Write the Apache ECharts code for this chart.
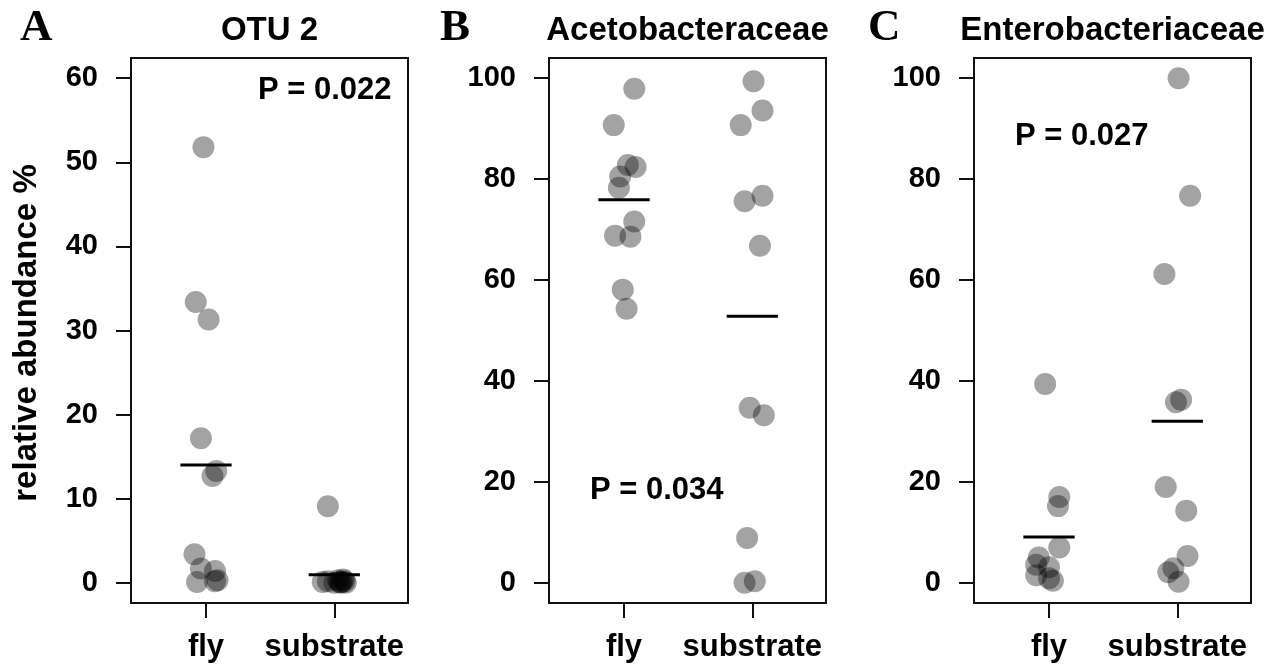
<!DOCTYPE html>
<html>
<head>
<meta charset="utf-8">
<title>relative abundance</title>
<script src="https://cdn.jsdelivr.net/npm/echarts@6/dist/echarts.min.js"></script>
<style>
  html, body { margin: 0; padding: 0; background: #fff; }
  #main { width: 1277px; height: 670px; }
</style>
</head>
<body>
<div id="main"></div>
<script>
  // values
  var categories = ['fly', 'substrate'];
  var panelTitles = ['OTU 2', 'Acetobacteraceae', 'Enterobacteriaceae'];
  var panelLetters = ['A', 'B', 'C'];
  var pTexts = ['P = 0.022', 'P = 0.034', 'P = 0.027'];
  var yTicksA = [0, 10, 20, 30, 40, 50, 60];
  var yTicksBC = [0, 20, 40, 60, 80, 100];

  // OTU 2 (x = jittered group position, y = %)
  var otuFlyX = [0.98, 0.92, 1.02, 0.96, 1.08, 1.05, 0.91, 0.96, 1.07, 0.93, 1.07, 1.09];
  var otuFlyY = [51.8, 33.4, 31.3, 17.2, 13.3, 12.7, 3.4, 1.7, 1.4, 0.1, 0.2, 0.3];
  var otuSubX = [1.95, 1.91, 1.95, 2.0, 2.03, 2.05, 2.06, 2.07, 2.08, 2.09, 2.04];
  var otuSubY = [9.1, 0.1, 0.2, 0, 0.3, 0, 0.1, 0.4, 0.2, 0, 0.1];
  var otuMeans = [14.0, 0.95];

  // Acetobacteraceae
  var aceFlyX = [1.08, 0.92, 1.03, 1.09, 0.97, 0.96, 1.08, 0.93, 1.05, 0.99, 1.02];
  var aceFlyY = [97.9, 90.7, 82.8, 82.4, 80.5, 78.3, 71.6, 68.8, 68.6, 58.1, 54.3];
  var aceSubX = [2.01, 2.08, 1.91, 1.94, 2.08, 2.06, 1.98, 2.09, 1.96, 1.94, 2.02];
  var aceSubY = [99.4, 93.6, 90.7, 75.6, 76.7, 66.8, 34.7, 33.2, 8.9, 0, 0.3];
  var aceMeans = [75.9, 52.8];

  // Enterobacteriaceae
  var entFlyX = [0.97, 1.08, 1.07, 1.08, 0.92, 0.9, 1.0, 0.9, 1.0, 1.03];
  var entFlyY = [39.4, 17.0, 15.2, 7.0, 5.0, 3.6, 3.1, 1.5, 0.9, 0.4];
  var entSubX = [2.01, 2.1, 1.9, 1.99, 2.03, 1.91, 2.07, 2.08, 1.97, 1.93, 2.01];
  var entSubY = [100, 76.7, 61.2, 35.8, 36.3, 19.0, 14.3, 5.3, 2.9, 2.1, 0.2];
  var entMeans = [9.1, 32.0];

  var font = '"Liberation Sans", Arial, sans-serif';

  function zip(xs, ys) {
    var out = [];
    for (var i = 0; i < xs.length; i++) out.push([xs[i], ys[i]]);
    return out;
  }

  var panels = [
    { left: 131, yMin: -2.4, yMax: 62.4, ticks: yTicksA,
      groups: [zip(otuFlyX, otuFlyY), zip(otuSubX, otuSubY)], means: otuMeans },
    { left: 549, yMin: -4, yMax: 104, ticks: yTicksBC,
      groups: [zip(aceFlyX, aceFlyY), zip(aceSubX, aceSubY)], means: aceMeans },
    { left: 974, yMin: -4, yMax: 104, ticks: yTicksBC,
      groups: [zip(entFlyX, entFlyY), zip(entSubX, entSubY)], means: entMeans }
  ];

  var gridW = 277, gridTop = 58, gridH = 545;

  var grids = [], xAxes = [], yAxes = [], series = [];
  panels.forEach(function (p, i) {
    grids.push({
      left: p.left, top: gridTop, width: gridW, height: gridH,
      show: true, borderColor: '#111', borderWidth: 2, backgroundColor: 'transparent'
    });
    xAxes.push({
      type: 'value', gridIndex: i, min: 0.415, max: 2.575,
      axisLine: { show: false, onZero: false },
      splitLine: { show: false },
      axisTick: { show: true, customValues: [1, 2], length: 15, lineStyle: { color: '#111', width: 2 } },
      axisLabel: {
        show: true, customValues: [1, 2], margin: 29,
        color: '#000', fontFamily: font, fontWeight: 'bold', fontSize: 31,
        formatter: function (v) { return categories[Math.round(v) - 1]; }
      }
    });
    yAxes.push({
      type: 'value', gridIndex: i, min: p.yMin, max: p.yMax,
      axisLine: { show: false, onZero: false },
      splitLine: { show: false },
      axisTick: { show: true, customValues: p.ticks, length: 15, lineStyle: { color: '#111', width: 2 } },
      axisLabel: {
        show: true, customValues: p.ticks, margin: 33,
        color: '#000', fontFamily: font, fontWeight: 'bold', fontSize: 29
      }
    });
    p.groups.forEach(function (g) {
      series.push({
        type: 'scatter', xAxisIndex: i, yAxisIndex: i,
        symbol: 'circle', symbolSize: 22,
        itemStyle: { color: 'rgba(0,0,0,0.45)' },
        silent: true,
        data: g
      });
    });
    p.means.forEach(function (m, k) {
      series.push({
        type: 'line', xAxisIndex: i, yAxisIndex: i,
        symbol: 'none', silent: true, z: 5,
        lineStyle: { color: '#000', width: 3 },
        data: [[k + 1 - 0.2, m], [k + 1 + 0.2, m]]
      });
    });
  });

  var boxCenters = panels.map(function (p) { return p.left + gridW / 2; });
  var graphics = [];
  panelLetters.forEach(function (t, i) {
    graphics.push({
      type: 'text', x: [20, 440, 868][i], y: 28,
      style: { text: t, font: 'bold 45px "Liberation Serif", "Times New Roman", serif',
        fill: '#000', textAlign: 'left', textVerticalAlign: 'middle' }
    });
  });
  panelTitles.forEach(function (t, i) {
    graphics.push({
      type: 'text', x: boxCenters[i], y: 31,
      style: { text: t, font: 'bold 33px ' + font, fill: '#000',
        textAlign: 'center', textVerticalAlign: 'middle' }
    });
  });
  var pPos = [[258, 90], [590, 490], [1015, 136]];
  pTexts.forEach(function (t, i) {
    graphics.push({
      type: 'text', x: pPos[i][0], y: pPos[i][1],
      style: { text: t, font: 'bold 31px ' + font, fill: '#000',
        textAlign: 'left', textVerticalAlign: 'middle' }
    });
  });
  graphics.push({
    type: 'text', x: 26.5, y: 333, rotation: Math.PI / 2,
    style: { text: 'relative abundance %', font: 'bold 33px ' + font, fill: '#000',
      textAlign: 'center', textVerticalAlign: 'middle' }
  });

  var myChart = echarts.init(document.getElementById('main'));
  var option = {
    backgroundColor: '#ffffff',
    animation: false,
    grid: grids,
    xAxis: xAxes,
    yAxis: yAxes,
    series: series,
    graphic: graphics
  };
  myChart.setOption(option);
</script>
</body>
</html>
